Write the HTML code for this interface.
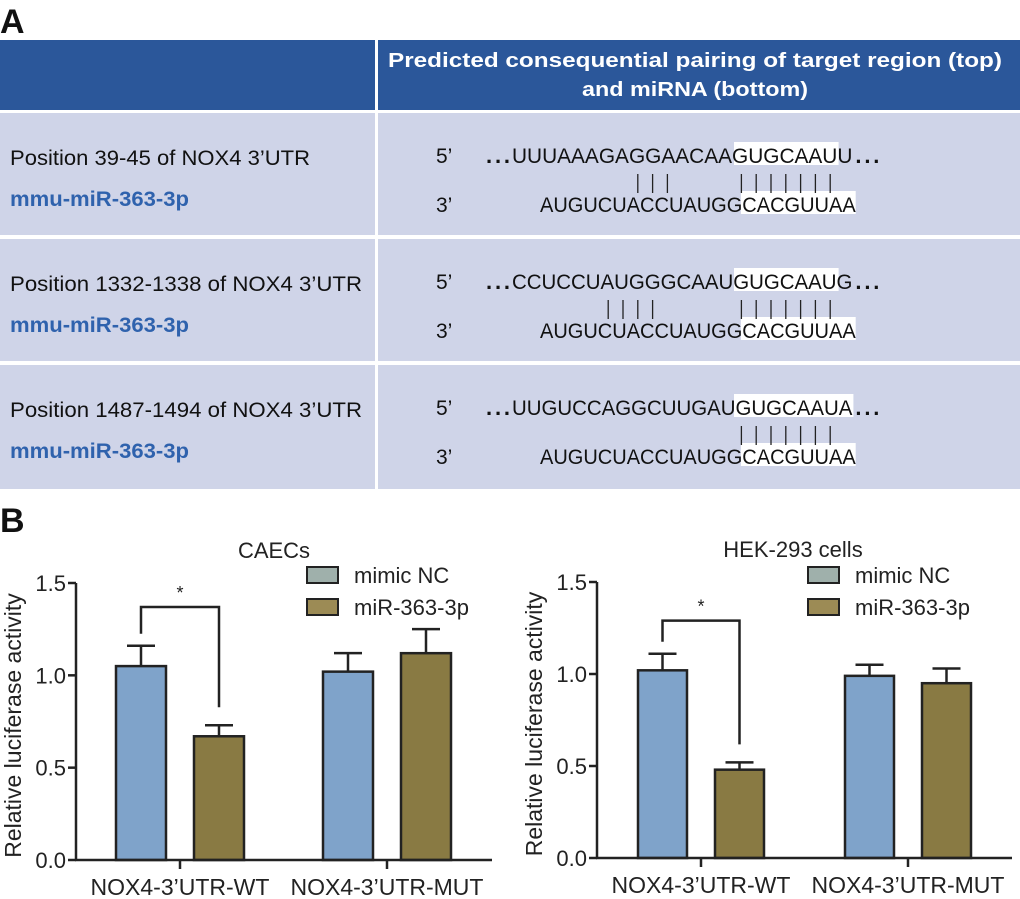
<!DOCTYPE html>
<html><head><meta charset="utf-8"><style>
body{margin:0;background:#fff;}
svg{display:block;font-family:"Liberation Sans",Arial,sans-serif;}
</style></head><body>
<svg id="fig" width="1020" height="899" viewBox="0 0 1020 899">
<text x="0" y="33" font-size="34" font-weight="bold" fill="#111">A</text>
<g>
<rect x="0" y="40" width="375" height="70" fill="#2b579a"/>
<rect x="378" y="40" width="642" height="70" fill="#2b579a"/>
<text x="695" y="67" text-anchor="middle" font-size="20" font-weight="bold" fill="#fff" textLength="614" lengthAdjust="spacingAndGlyphs">Predicted consequential pairing of target region (top)</text>
<text x="695" y="96" text-anchor="middle" font-size="20" font-weight="bold" fill="#fff" textLength="226" lengthAdjust="spacingAndGlyphs">and miRNA (bottom)</text>
</g>
<g id="rows"></g>
<text x="0" y="532" font-size="34" font-weight="bold" fill="#111">B</text>
<g id="charts"></g>
</svg>
<script>
const NS='http://www.w3.org/2000/svg';
function mk(parent,tag,attrs,txt){const e=document.createElementNS(NS,tag);for(const k in attrs)e.setAttribute(k,attrs[k]);if(txt!==undefined)e.textContent=txt;parent.appendChild(e);return e;}

// ---- table rows ----
const rowPositions=['Position 39-45 of NOX4 3\u2019UTR','Position 1332-1338 of NOX4 3\u2019UTR','Position 1487-1494 of NOX4 3\u2019UTR'];
const rowTargets=['UUUAAAGAGGAACAAGUGCAAUU','CCUCCUAUGGGCAAUGUGCAAUG','UUGUCCAGGCUUGAUGUGCAAUA'];
const rowMirna='AUGUCUACCUAUGGCACGUUAA';
const rowPairs=[[8,9,10,15,16,17,18,19,20,21],[6,7,8,9,15,16,17,18,19,20,21],[15,16,17,18,19,20,21]];
const rowBoxLen=[7,7,8];
const rowPosWidth=[300,352,352];
const rowsG=document.getElementById('rows');
const rowTops=[113,239,365], rowH=[122,122,124];
for(let i=0;i<3;i++){
  const y0=rowTops[i];
  let r=mk(rowsG,'rect',{x:0,y:y0,width:375,height:rowH[i],fill:'#cfd4e8'});
  
  
  r=mk(rowsG,'rect',{x:378,y:y0,width:642,height:rowH[i],fill:'#cfd4e8'});
  
  
  const ty=y0+50, by=y0+99;
  let t=mk(rowsG,'text',{x:10,y:ty+2,'font-size':21,fill:'#111',textLength:rowPosWidth[i],lengthAdjust:'spacingAndGlyphs'},rowPositions[i]);
  
  
  t=mk(rowsG,'text',{x:10,y:by-6,'font-size':21,'font-weight':'bold',fill:'#2f62ad',textLength:179,lengthAdjust:'spacingAndGlyphs'},'mmu-miR-363-3p');
  
  
  const cw=14.8, x0=512, cwb=14.35, xb0=540;
  let b=mk(rowsG,'rect',{x:x0+15*cw,y:ty-21,width:rowBoxLen[i]*cw+1,height:23,fill:'#fff'});
  
  
  b=mk(rowsG,'rect',{x:xb0+14*cwb,y:by-21,width:8*cwb,height:23,fill:'#fff'});
  
  
  t=mk(rowsG,'text',{x:436,y:ty,'font-size':21,fill:'#111'},'5\u2019');
  
  
  t=mk(rowsG,'text',{x:436,y:by,'font-size':21,fill:'#111'},'3\u2019');
  
  
  t=mk(rowsG,'text',{x:486,y:ty,'font-size':22,'font-weight':'bold',fill:'#111',textLength:24,lengthAdjust:'spacing'},'...');
  
  
  t=mk(rowsG,'text',{x:x0+23*cw+3,y:ty,'font-size':22,'font-weight':'bold',fill:'#111',textLength:24,lengthAdjust:'spacing'},'...');
  
  
  t=mk(rowsG,'text',{x:x0,y:ty,'font-size':21,fill:'#111',textLength:23*cw,lengthAdjust:'spacingAndGlyphs'},rowTargets[i]);
  
  
  t=mk(rowsG,'text',{x:xb0,y:by,'font-size':21,fill:'#111',textLength:22*cwb,lengthAdjust:'spacingAndGlyphs'},rowMirna);
  
  
  rowPairs[i].forEach(k=>{
    const px=x0+(k+0.5)*cw;
    const p=mk(rowsG,'line',{x1:px,x2:px,y1:ty+11,y2:ty+30,stroke:'#222','stroke-width':1.3});
    
    
  });
}

// ---- charts ----
const groups=['NOX4-3\u2019UTR-WT','NOX4-3\u2019UTR-MUT'];
const seriesNames=['mimic NC','miR-363-3p'];
const yTicks=[0,0.5,1.0,1.5];
const yTickLabels=['0.0','0.5','1.0','1.5'];
const caecNC=[1.05,1.02], caecNCerr=[0.11,0.10];
const caecMiR=[0.67,1.12], caecMiRerr=[0.06,0.13];
const hekNC=[1.02,0.99], hekNCerr=[0.09,0.06];
const hekMiR=[0.48,0.95], hekMiRerr=[0.04,0.08];
const fills=['#7fa3ca','#897a43'];
const legendFills=['#9fb0ab','#9c8b55'];

const chartsG=document.getElementById('charts');
function drawChart(o){
  const g=mk(chartsG,'g',{});
  
  
  const y=v=>o.y0-(v/1.5)*(o.y0-o.y15);
  const x=(gi,si)=>o.ax+o.firstBar+gi*o.groupGap+si*o.barGap;
  const vals=[o.nc,o.mir], errs=[o.ncErr,o.mirErr];
  for(let s=0;s<2;s++)for(let gi=0;gi<groups.length;gi++){
    const v=vals[s][gi], e=errs[s][gi], bx=x(gi,s), cx=bx+o.bw/2;
    const el=mk(g,'line',{x1:cx,x2:cx,y1:y(v),y2:y(v+e),stroke:'#222','stroke-width':2.5});
    
    
    const cap=mk(g,'line',{x1:cx-14,x2:cx+14,y1:y(v+e),y2:y(v+e),stroke:'#222','stroke-width':2.5});
    
    
    const r=mk(g,'rect',{x:bx,y:y(v),width:o.bw,height:y(0)-y(v),fill:fills[s],stroke:'#222','stroke-width':2.5});
    
    
  }
  let a=mk(g,'line',{x1:o.ax,x2:o.ax,y1:y(1.5),y2:y(0)+1,stroke:'#222','stroke-width':2.5});
  
  
  a=mk(g,'line',{x1:o.ax-1,x2:o.axEnd,y1:y(0),y2:y(0),stroke:'#222','stroke-width':2.5});
  
  
  yTicks.forEach((t,i)=>{
    const tk=mk(g,'line',{x1:o.ax-8,x2:o.ax,y1:y(t),y2:y(t),stroke:'#222','stroke-width':2.5});
    
    
    const tl=mk(g,'text',{x:o.ax-10,y:y(t)+8,'text-anchor':'end','font-size':22,fill:'#222'},yTickLabels[i]);
    
    
  });
  groups.forEach((gname,gi)=>{
    const cx=(x(gi,0)+x(gi,1)+o.bw)/2;
    const tk=mk(g,'line',{x1:cx,x2:cx,y1:y(0),y2:y(0)+9,stroke:'#222','stroke-width':2.5});
    
    
    const tl=mk(g,'text',{x:cx,y:y(0)+35,'text-anchor':'middle','font-size':23,fill:'#222'},gname);
    
    
  });
  const yt=mk(g,'text',{x:0,y:0,'text-anchor':'middle','font-size':23,fill:'#222',transform:`translate(${o.ax-55},${(y(0)+y(1.5))/2+4}) rotate(-90)`},'Relative luciferase activity');
  
  
  const tt=mk(g,'text',{x:o.titleX,y:o.titleY,'text-anchor':'middle','font-size':22,fill:'#222'},o.title);
  
  
  seriesNames.forEach((sn,i)=>{
    const ly=o.legY+i*32;
    const sw=mk(g,'rect',{x:o.legX,y:ly,width:31,height:16,fill:legendFills[i],stroke:'#222','stroke-width':2});
    
    
    const lt=mk(g,'text',{x:o.legX+47,y:ly+16,'font-size':22,fill:'#222'},sn);
    
    
  });
  const c0=x(0,0)+o.bw/2, c1=x(0,1)+o.bw/2;
  const by=y(o.brk);
  const br=mk(g,'path',{d:`M${c0},${y(o.nc[0]+o.ncErr[0])-12} V${by} H${c1} V${y(o.mir[0]+o.mirErr[0])-18}`,fill:'none',stroke:'#222','stroke-width':2.5});
  
  
  const st=mk(g,'text',{x:(c0+c1)/2,y:by-8,'text-anchor':'middle','font-size':18,fill:'#222'},'*');
  
  
}
drawChart({name:'chart-caecs',title:'CAECs',titleX:274,titleY:558,ax:76,axEnd:492,y0:860,y15:583,firstBar:40,groupGap:207,barGap:78,bw:50,nc:caecNC,ncErr:caecNCerr,mir:caecMiR,mirErr:caecMiRerr,brk:1.37,legX:307,legY:567});
drawChart({name:'chart-hek293',title:'HEK-293 cells',titleX:793,titleY:557,ax:597,axEnd:1012,y0:858,y15:582,firstBar:41,groupGap:207,barGap:77,bw:49,nc:hekNC,ncErr:hekNCerr,mir:hekMiR,mirErr:hekMiRerr,brk:1.29,legX:808,legY:567});
</script>
</body></html>
